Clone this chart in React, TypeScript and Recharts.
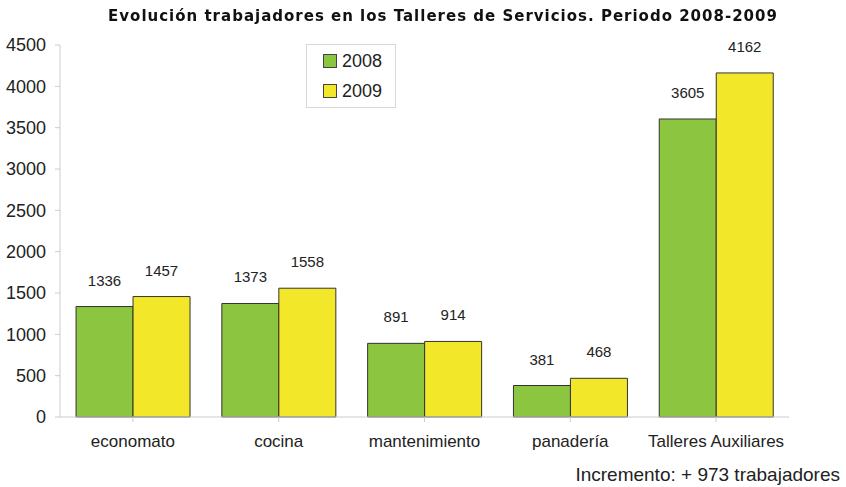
import { BarChart, Bar, XAxis, YAxis, LabelList } from "recharts";

const categories = ["economato", "cocina", "mantenimiento", "panadería", "Talleres Auxiliares"];
const values2008 = [1336, 1373, 891, 381, 3605];
const values2009 = [1457, 1558, 914, 468, 4162];
const yTicks = [0, 500, 1000, 1500, 2000, 2500, 3000, 3500, 4000, 4500];

const data = categories.map((name, i) => ({
  name,
  y2008: values2008[i],
  y2009: values2009[i],
}));

const FONT = "'Liberation Sans', Arial, Helvetica, sans-serif";
const GREEN = "#8CC540";
const YELLOW = "#F2E829";

// legend drawn as a plain box so it does not push the plot down
function LegendBox() {
  const items = [
    { label: "2008", color: GREEN },
    { label: "2009", color: YELLOW },
  ];
  return (
    <div
      style={{
        position: "absolute",
        left: 306,
        top: 44,
        width: 90,
        height: 64,
        boxSizing: "border-box",
        border: "1px solid #d8d8d8",
        padding: "1px 0 0 16px",
        background: "#fff",
        fontFamily: FONT,
        fontSize: 18,
        color: "#222",
      }}
    >
      {items.map((it) => (
        <div key={it.label} style={{ display: "flex", alignItems: "center", height: 30 }}>
          <span
            style={{
              display: "inline-block",
              width: 12,
              height: 12,
              background: it.color,
              border: "1px solid #444",
              marginRight: 5,
            }}
          />
          {it.label}
        </div>
      ))}
    </div>
  );
}

export default function App() {
  return (
    <div style={{ position: "fixed", left: 0, top: 0, width: 846, height: 487, background: "#fff", fontFamily: FONT }}>
      <BarChart
        width={846}
        height={487}
        data={data}
        margin={{ top: 45, right: 57, left: 2, bottom: 30 }}
        barCategoryGap="11%"
        barGap={0}
      >
        <XAxis
          dataKey="name"
          height={40}
          tick={{ fontSize: 17, fill: "#222", fontFamily: FONT }}
          tickLine={{ stroke: "#ccc" }}
          axisLine={{ stroke: "#ccc" }}
          tickSize={5}
          tickMargin={13}
          interval={0}
        />
        <YAxis
          width={58}
          domain={[0, 4500]}
          ticks={yTicks}
          tick={{ fontSize: 18, fill: "#222", fontFamily: FONT }}
          tickLine={{ stroke: "#ccc" }}
          axisLine={{ stroke: "#ccc" }}
          tickSize={5}
          tickMargin={9}
        />
        <Bar dataKey="y2008" name="2008" fill={GREEN} stroke="#333" strokeWidth={1} isAnimationActive={false}>
          <LabelList dataKey="y2008" position="top" offset={21} style={{ fontSize: 15, fill: "#222", fontFamily: FONT }} />
        </Bar>
        <Bar dataKey="y2009" name="2009" fill={YELLOW} stroke="#333" strokeWidth={1} isAnimationActive={false}>
          <LabelList dataKey="y2009" position="top" offset={21} style={{ fontSize: 15, fill: "#222", fontFamily: FONT }} />
        </Bar>
      </BarChart>
      <div
        style={{
          position: "absolute",
          top: 7,
          left: 0,
          width: 886,
          textAlign: "center",
          fontFamily: "'DejaVu Sans', sans-serif",
          fontWeight: "bold",
          fontSize: 15,
          letterSpacing: 1,
          color: "#111",
          whiteSpace: "nowrap",
        }}
      >
        Evolución trabajadores en los Talleres de Servicios. Periodo 2008-2009
      </div>
      <LegendBox />
      <div style={{ position: "absolute", right: 6, top: 464, fontSize: 19, color: "#222", whiteSpace: "nowrap" }}>
        Incremento: + 973 trabajadores
      </div>
    </div>
  );
}
